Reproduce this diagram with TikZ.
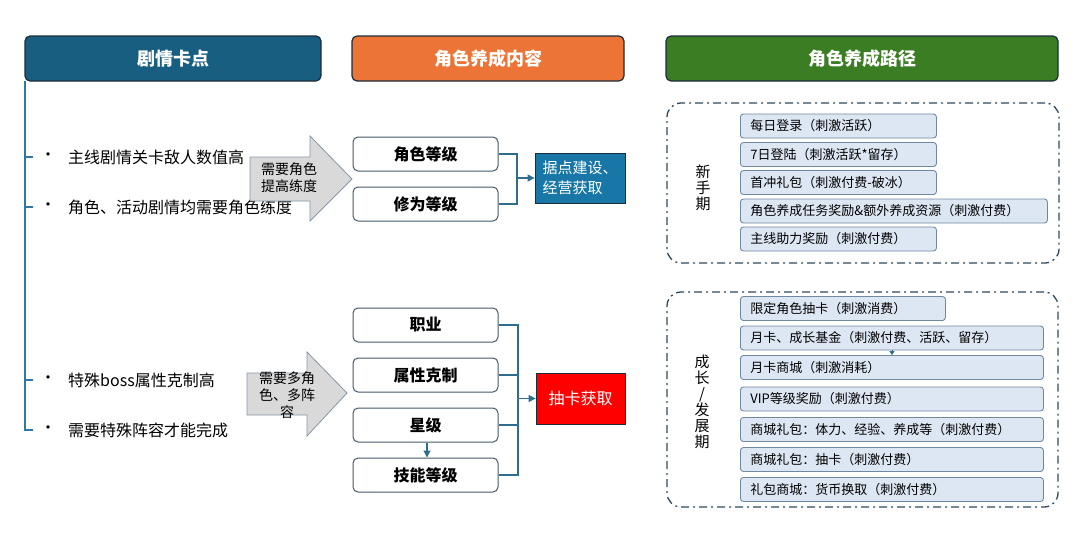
\documentclass[tikz,border=0pt]{standalone}
\usepackage{fontspec}
\setmainfont{Noto Sans CJK SC}
\usetikzlibrary{arrows.meta}
\definecolor{hblue}{HTML}{185E80}
\definecolor{horange}{HTML}{EC7436}
\definecolor{hgreen}{HTML}{3A7D23}
\definecolor{hborder}{HTML}{1B2D3B}
\definecolor{jdblue}{HTML}{1877A6}
\definecolor{conn}{HTML}{2E6D8E}
\definecolor{lline}{HTML}{2E78A5}
\definecolor{agray}{HTML}{D9D9D9}
\definecolor{aborder}{HTML}{8497A8}
\definecolor{mborder}{HTML}{44596A}
\definecolor{ifill}{HTML}{DDE7F3}
\definecolor{iborder}{HTML}{7189A0}
\definecolor{pdash}{HTML}{2F4A5E}
\tikzset{
  hdr/.style={draw=hborder, line width=1.2, rounded corners=5, text=white,
    font=\bfseries\fontsize{18}{20}\selectfont, minimum height=45, inner sep=0},
  mbox/.style={draw=mborder, line width=1, rounded corners=5, fill=white,
    font=\bfseries\fontsize{16}{18}\selectfont, minimum width=145, minimum height=34, inner sep=0},
  conline/.style={draw=conn, line width=1.2},
  conarrow/.style={conline, -{Triangle[length=7,width=7]}},
  blockarrow/.style={fill=agray, draw=aborder, line width=0.8},
  arrtext/.style={font=\fontsize{14}{17}\selectfont, align=center, inner sep=0},
  bul/.style={anchor=west, font=\fontsize{16}{18}\selectfont, inner sep=0},
  item/.style={draw=iborder, fill=ifill, line width=0.9, rounded corners=3, anchor=west,
    font=\fontsize{13}{15}\selectfont, align=left, inner xsep=10, inner ysep=0, minimum height=24},
  panel/.style={draw=pdash, line width=1.3, rounded corners=14,
    dash pattern=on 8 off 4 on 2 off 4},
  vlabel/.style={font=\fontsize{15}{16}\selectfont, align=center, inner sep=0},
  lefttick/.style={draw=lline, line width=1.5}
}
\begin{document}
\begin{tikzpicture}[x=1pt,y=-1pt]
\useasboundingbox (0,0) rectangle (1080,544);
% headers
\node[hdr, fill=hblue, minimum width=296] (h1) at (173,58.5) {剧情卡点};
\node[hdr, fill=horange, minimum width=272] (h2) at (488,58.5) {角色养成内容};
\node[hdr, fill=hgreen, minimum width=392] (h3) at (862,58.5) {角色养成路径};

% left bracket line
\coordinate (l0) at (25,81);
\coordinate (l1) at (25,157); \coordinate (t1) at (33,157);
\coordinate (l2) at (25,207); \coordinate (t2) at (33,207);
\coordinate (l3) at (25,380); \coordinate (t3) at (33,380);
\coordinate (l4) at (25,430); \coordinate (t4) at (33,430);
\draw[lefttick] (l0) -- (l4) -- (t4);
\draw[lefttick] (l1) -- (t1);
\draw[lefttick] (l2) -- (t2);
\draw[lefttick] (l3) -- (t3);

% bullets
\node[bul] (b1) at (40,157) {•};
\node[bul] (b2) at (40,207) {•};
\node[bul] (b3) at (40,380) {•};
\node[bul] (b4) at (40,430) {•};
\node[bul] (s1) at (68,157) {主线剧情关卡敌人数值高};
\node[bul] (s2) at (68,207) {角色、活动剧情均需要角色练度};
\node[bul] (s3) at (68,380) {特殊boss属性克制高};
\node[bul] (s4) at (68,430) {需要特殊阵容才能完成};

% block arrows
\draw[blockarrow] (250,157) -- (310,157) -- (310,136) -- (352,179) -- (310,221) -- (310,201) -- (250,201) -- cycle;
\node[arrtext] (a1) at (289,178) {需要角色\\提高练度};
\draw[blockarrow] (247,373) -- (307,373) -- (307,352) -- (347,393) -- (307,436) -- (307,415) -- (247,415) -- cycle;
\node[arrtext] (a2) at (287,395) {需要多角\\色、多阵\\容};

% middle upper
\node[mbox] (m1) at (425.5,154) {角色等级};
\node[mbox] (m2) at (425.5,204) {修为等级};
\node[draw=hborder, line width=0.8, fill=jdblue, text=white, minimum width=90, minimum height=50,
  inner sep=0, font=\fontsize{15}{20}\selectfont, align=left] (jd) at (580,178) {据点建设、\\经营获取};
\coordinate (j1) at (517,178);
\draw[conline] (m1.east) -| (j1);
\draw[conline] (m2.east) -| (j1);
\draw[conarrow] (j1) -- (jd.west);

% middle lower
\node[mbox] (m3) at (425.5,325) {职业};
\node[mbox] (m4) at (425.5,375) {属性克制};
\node[mbox] (m5) at (425.5,425) {星级};
\node[mbox] (m6) at (425.5,475) {技能等级};
\node[draw=hborder, line width=0.8, fill=red, text=white, minimum width=89, minimum height=51,
  inner sep=0, font=\fontsize{16}{18}\selectfont] (ck) at (580.5,398.5) {抽卡获取};
\coordinate (j2) at (518,398.5);
\draw[conline] (m3.east) -| (j2);
\draw[conline] (m4.east) -| (j2);
\draw[conline] (m5.east) -| (j2);
\draw[conline] (m6.east) -| (j2);
\draw[conarrow] (j2) -- (ck.west);
\draw[conarrow] ([xshift=1.5]m5.south) -- ([xshift=1.5]m6.north);

% panels
\node[panel, minimum width=392, minimum height=160] (p1) at (863,183) {};
\node[panel, minimum width=391, minimum height=215] (p2) at (862.5,399.5) {};
\node[vlabel] (v1) at (703,188) {新\\手\\期};
\node[vlabel] (v2) at (702,402) {成\\长\\/\\发\\展\\期};

\node[item, text width=176] (n1) at (740,126) {每日登录（刺激活跃）};
\node[item, text width=176] (n2) at (740,154.5) {7日登陆（刺激活跃*留存）};
\node[item, text width=176] (n3) at (740,182.5) {首冲礼包（刺激付费-破冰）};
\node[item, text width=287] (n4) at (740,211) {角色养成任务奖励\&额外养成资源（刺激付费）};
\node[item, text width=176] (n5) at (740,239) {主线助力奖励（刺激付费）};

\node[item, text width=185] (g1) at (740,308.5) {限定角色抽卡（刺激消费）};
\node[item, text width=283] (g2) at (740,338) {月卡、成长基金（刺激付费、活跃、留存）};
\node[item, text width=283] (g3) at (740,367.5) {月卡商城（刺激消耗）};
\node[item, text width=283] (g4) at (740,399) {VIP等级奖励（刺激付费）};
\node[item, text width=283] (g5) at (740,429.5) {商城礼包：体力、经验、养成等（刺激付费）};
\node[item, text width=283] (g6) at (740,459.5) {商城礼包：抽卡（刺激付费）};
\node[item, text width=283] (g7) at (740,489.5) {礼包商城：货币换取（刺激付费）};
\draw[conn, line width=0.8, -{Triangle[length=4,width=5]}] (g2.south -| 892,0) -- (g3.north -| 892,0);
\end{tikzpicture}
\end{document}
